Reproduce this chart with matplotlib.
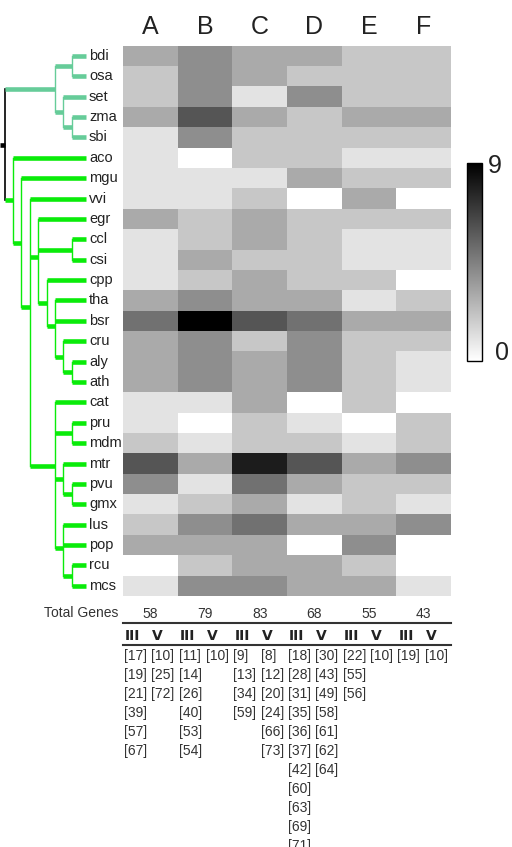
import numpy as np
import matplotlib
matplotlib.use("Agg")
import matplotlib.pyplot as plt
from matplotlib.colors import LinearSegmentedColormap

plt.rcParams['font.family'] = ['Liberation Sans', 'DejaVu Sans']

# ---------------- data ----------------
columns = ["A", "B", "C", "D", "E", "F"]
species = ["bdi", "osa", "set", "zma", "sbi", "aco", "mgu", "vvi", "egr", "ccl",
           "csi", "cpp", "tha", "bsr", "cru", "aly", "ath", "cat", "pru", "mdm",
           "mtr", "pvu", "gmx", "lus", "pop", "rcu", "mcs"]

counts_A = [3, 2, 2, 3, 1, 1, 1, 1, 3, 1, 1, 1, 3, 5, 3, 3, 3, 1, 1, 2, 6, 4, 1, 2, 3, 0, 1]
counts_B = [4, 4, 4, 6, 4, 0, 1, 1, 2, 2, 3, 2, 4, 9, 4, 4, 4, 1, 0, 1, 3, 1, 2, 4, 3, 2, 4]
counts_C = [3, 3, 1, 3, 2, 2, 1, 2, 3, 3, 2, 3, 3, 6, 2, 3, 3, 3, 2, 2, 8, 5, 3, 5, 3, 3, 4]
counts_D = [3, 2, 4, 2, 2, 2, 3, 0, 2, 2, 2, 2, 3, 5, 4, 4, 4, 0, 1, 2, 6, 3, 1, 3, 0, 3, 3]
counts_E = [2, 2, 2, 3, 2, 1, 2, 3, 2, 1, 1, 2, 1, 3, 2, 2, 2, 2, 0, 1, 3, 2, 2, 3, 4, 2, 3]
counts_F = [2, 2, 2, 3, 2, 1, 2, 0, 2, 1, 1, 0, 2, 3, 2, 1, 1, 0, 2, 2, 4, 2, 1, 4, 0, 0, 1]

total_genes = [58, 79, 83, 68, 55, 43]
class_labels = ["III", "V"]

members_III = [[17, 19, 21, 39, 57, 67],
               [11, 14, 26, 40, 53, 54],
               [9, 13, 34, 59],
               [18, 28, 31, 35, 36, 37, 42, 60, 63, 69, 71],
               [22, 55, 56],
               [19]]
members_V = [[10, 25, 72],
             [10],
             [8, 12, 20, 24, 66, 73],
             [30, 43, 49, 58, 61, 62, 64],
             [10],
             [10]]

# tree topology (nested lists of leaves)
monocots = [["bdi", "osa"], ["set", ["zma", "sbi"]]]
malvids = ["egr", ["ccl", "csi"], ["cpp", ["tha", "bsr", ["cru", ["aly", "ath"]]]]]
fabids = ["cat", ["pru", "mdm"], ["mtr", ["pvu", "gmx"]], ["lus", "pop", ["rcu", "mcs"]]]
eudicots = ["aco", ["mgu", ["vvi", malvids, fabids]]]

# ---------------- layout ----------------
W, H = 512, 847
fig = plt.figure(figsize=(W / 100, H / 100), dpi=100)


def fx(px):
    return px / W


def fy(py):
    return 1 - py / H


hm_left, hm_right, hm_top, hm_bot = 123, 451, 45.7, 596
n = len(species)
row_h = (hm_bot - hm_top) / n

# heatmap
ax = fig.add_axes([fx(hm_left), fy(hm_bot), (hm_right - hm_left) / W, (hm_bot - hm_top) / H])
data = np.column_stack([counts_A, counts_B, counts_C, counts_D, counts_E, counts_F])
cmap = LinearSegmentedColormap.from_list("wk", ["#ffffff", "#000000"])
mesh = ax.pcolormesh(data, cmap=cmap, vmin=0, vmax=9, edgecolors="none", antialiased=False)
ax.set_xlim(0, len(columns))
ax.set_ylim(n, 0)
ax.axis("off")
for i, c in enumerate(columns):
    ax.text(i + 0.5, (34.3 - hm_top) / row_h, c, ha="center", va="baseline",
            fontsize=18, color="#222222")

# dendrogram
step = 8.37
x_h1 = 71.7


def px_to_h(px):
    return 1 + (x_h1 - px) / step


dax = fig.add_axes([0, fy(hm_bot), hm_left / W, (hm_bot - hm_top) / H])
dax.set_xlim(px_to_h(0), px_to_h(hm_left))
dax.set_ylim(n, 0)
dax.axis("off")

leaf_end = px_to_h(86)
label_x = px_to_h(89)
thick, thin = 3.3, 1.0


def h_of(node):
    if isinstance(node, str):
        return 0
    return 1 + max(h_of(c) for c in node)


def y_of(node):
    if isinstance(node, str):
        return species.index(node) + 0.5
    return np.mean([y_of(c) for c in node])


def draw(node, parent_h, color):
    y = y_of(node)
    if isinstance(node, str):
        dax.plot([parent_h, leaf_end], [y, y], color=color, lw=thick,
                 solid_capstyle="butt", zorder=3)
        dax.text(label_x, y, node, ha="left", va="center", fontsize=10.5, color="#222222")
        return
    h = h_of(node)
    dax.plot([parent_h, h], [y, y], color=color, lw=thick, solid_capstyle="butt", zorder=3)
    ys = [y_of(c) for c in node]
    dax.plot([h, h], [min(ys), max(ys)], color=color, lw=thin, zorder=2)
    for c in node:
        draw(c, h, color)


tree = [monocots, eudicots]
root_h = h_of(tree)
y_mono, y_eu = y_of(monocots), y_of(eudicots)
y_root = (y_mono + y_eu) / 2
dax.plot([root_h, root_h], [y_mono, y_eu], color="black", lw=1.2, zorder=2)
dax.plot([px_to_h(0), root_h], [y_root, y_root], color="black", lw=thick,
         solid_capstyle="butt", zorder=3)
draw(monocots, root_h, "#66CC99")
draw(eudicots, root_h, "#0AEB0A")

# colorbar
cax = fig.add_axes([fx(467.3), fy(360.7), 14.4 / W, 197.4 / H])
cb = fig.colorbar(mesh, cax=cax, ticks=[])
cb.outline.set_linewidth(1.0)
cb.outline.set_edgecolor("black")
fig.text(fx(488), fy(173), "9", fontsize=18, ha="left", va="baseline", color="#222222")
fig.text(fx(495), fy(360), "0", fontsize=18, ha="left", va="baseline", color="#222222")

# bottom table
tax = fig.add_axes([fx(hm_left), 0, (hm_right - hm_left) / W, fy(hm_bot)])
tax.set_xlim(0, len(columns))
tax.set_ylim(H, hm_bot)
tax.axis("off")
col_w = (hm_right - hm_left) / len(columns)

tax.text(-5 / col_w, 616.7, "Total Genes", ha="right", va="baseline", fontsize=10, color="#333333")
for i, t in enumerate(total_genes):
    tax.text(i + 0.5, 617.5, str(t), ha="center", va="baseline", fontsize=10, color="#333333")
tax.plot([0, len(columns)], [623.3, 623.3], color="#333333", lw=1.5, clip_on=False)
tax.plot([0, len(columns)], [645, 645], color="#333333", lw=1.5, clip_on=False)
for i in range(len(columns)):
    for j, cls in enumerate(class_labels):
        tax.text(i + 0.5 * j + 2 / col_w, 640, cls, ha="left", va="baseline", fontsize=10,
                 fontweight="bold", family="DejaVu Sans", color="#222222")
    for j, mem in enumerate([members_III[i], members_V[i]]):
        for k, m in enumerate(mem):
            tax.text(i + 0.5 * j + 1 / col_w, 660 + 19 * k, f"[{m}]", ha="left",
                     va="baseline", fontsize=10, color="#333333")

fig.savefig("out.png", dpi=100)
